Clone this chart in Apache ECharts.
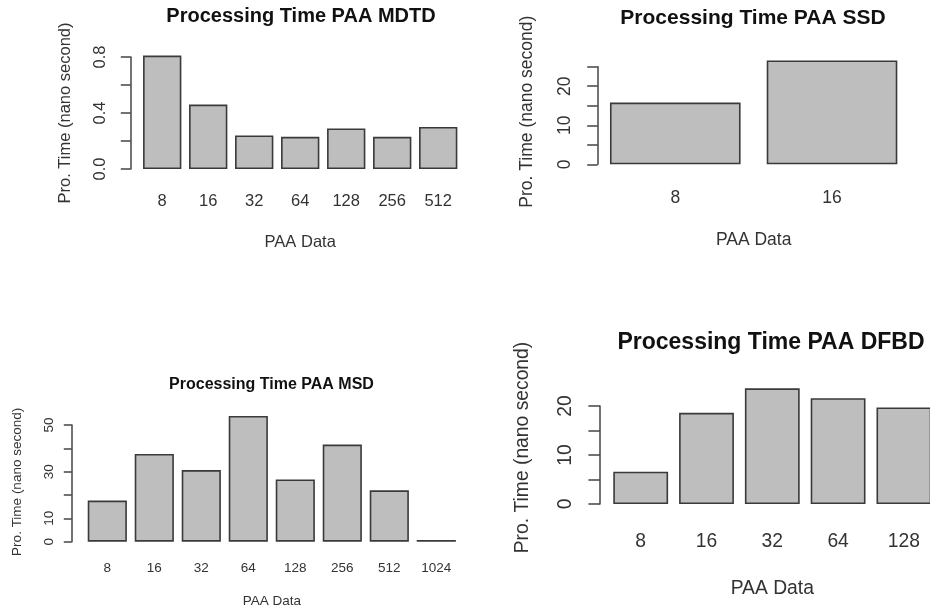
<!DOCTYPE html>
<html>
<head>
<meta charset="utf-8">
<script src="https://cdn.jsdelivr.net/npm/echarts@6/dist/echarts.min.js"></script>
<style>
  html, body { margin: 0; padding: 0; background: #ffffff; }
  #chart { width: 930px; height: 608px; }
</style>
</head>
<body>
<div id="chart"></div>
<script>
// ---- Data ----
const mdtdCategories = ['8', '16', '32', '64', '128', '256', '512'];
const mdtdValues = [0.81, 0.46, 0.24, 0.23, 0.29, 0.23, 0.30];
const mdtdTickLabels = ['0.0', '', '0.4', '', '0.8'];

const ssdCategories = ['8', '16'];
const ssdValues = [15.8, 26.6];
const ssdTickLabels = ['0', '', '10', '', '20', ''];

const msdCategories = ['8', '16', '32', '64', '128', '256', '512', '1024'];
const msdValues = [17.6, 37.6, 30.7, 53.9, 26.7, 41.6, 22.0, 0.7];
const msdTickLabels = ['0', '10', '', '30', '', '50'];

const dfbdCategories = ['8', '16', '32', '64', '128'];
const dfbdValues = [6.6, 18.6, 23.6, 21.6, 19.7];
const dfbdTickLabels = ['0', '', '10', '', '20'];

const xTitle = 'PAA Data';
const yTitle = 'Pro. Time (nano second)';

// ---- Layout / style ----
const FONT = '"Liberation Sans", Arial, Helvetica, sans-serif';
const TEXT = '#333333';
const LINE = '#444444';

const panels = [
  { title: 'Processing Time PAA MDTD', cats: mdtdCategories, vals: mdtdValues, ticks: mdtdTickLabels,
    max: 0.8, interval: 0.2,
    grid: { left: 139.2, width: 322, top: 57, bottom: 439 },
    fs: 16.5, tfs: 20, tx: 301, ty: 16,
    xMargin: 24, xGap: 64.5, yMargin: 22, tick: 9.9, yGap: 57, offset: 8.5, namePad: 0 },
  { title: 'Processing Time PAA SSD', cats: ssdCategories, vals: ssdValues, ticks: ssdTickLabels,
    max: 25, interval: 5,
    grid: { left: 596.9, width: 313.5, top: 66.7, bottom: 443.7 },
    fs: 17.5, tfs: 21, tx: 753, ty: 18.3,
    xMargin: 24.5, xGap: 67, yMargin: 24, tick: 10.5, yGap: 62, offset: -0.8, namePad: 7.6 },
  { title: 'Processing Time PAA MSD', cats: msdCategories, vals: msdValues, ticks: msdTickLabels,
    max: 50, interval: 10,
    grid: { left: 83.8, width: 376, top: 425, bottom: 66.3 },
    fs: 13.5, tfs: 16, tx: 271.5, ty: 384.7,
    xMargin: 20, xGap: 52.4, yMargin: 15.5, tick: 8, yGap: 47.3, offset: 12, namePad: 3 },
  { title: 'Processing Time PAA DFBD', cats: dfbdCategories, vals: dfbdValues, ticks: dfbdTickLabels,
    max: 20, interval: 5,
    grid: { left: 607.8, width: 329, top: 406, bottom: 104 },
    fs: 19.3, tfs: 23, tx: 771, ty: 343,
    xMargin: 28, xGap: 74.7, yMargin: 24.5, tick: 11.6, yGap: 68, offset: 7.8, namePad: 15 }
];

const option = {
  backgroundColor: '#ffffff',
  animation: false,
  title: [], grid: [], xAxis: [], yAxis: [], series: []
};

panels.forEach((p, i) => {
  option.title.push({
    text: p.title, left: p.tx, top: p.ty, padding: 0,
    textAlign: 'center', textVerticalAlign: 'middle',
    textStyle: { fontFamily: FONT, fontSize: p.tfs, fontWeight: 'bold', color: '#111111' }
  });
  option.grid.push(Object.assign({ containLabel: false, outerBoundsMode: 'none' }, p.grid));
  option.xAxis.push({
    type: 'category', gridIndex: i, data: p.cats,
    name: xTitle, nameLocation: 'middle', nameGap: p.xGap,
    nameTextStyle: { fontFamily: FONT, fontSize: p.fs, color: TEXT },
    axisLine: { show: false }, axisTick: { show: false }, splitLine: { show: false },
    axisLabel: { fontFamily: FONT, fontSize: p.fs, color: TEXT, margin: p.xMargin, interval: 0 }
  });
  option.yAxis.push({
    type: 'value', gridIndex: i, min: 0, max: p.max, interval: p.interval,
    offset: p.offset,
    name: yTitle, nameLocation: 'middle', nameGap: p.yGap,
    nameTextStyle: { fontFamily: FONT, fontSize: p.fs, color: TEXT, padding: [0, 0, 0, p.namePad] },
    axisLine: { show: true, lineStyle: { color: LINE, width: 1.5 } },
    axisTick: { show: true, length: p.tick, lineStyle: { color: LINE, width: 1.5 } },
    splitLine: { show: false },
    axisLabel: {
      fontFamily: FONT, fontSize: p.fs, color: TEXT, margin: p.yMargin, rotate: 90,
      showMinLabel: true, showMaxLabel: true,
      formatter: (v, idx) => {
        const k = Math.round(v / p.interval);
        return p.ticks[k] !== undefined ? p.ticks[k] : '';
      }
    }
  });
  option.series.push({
    type: 'bar', xAxisIndex: i, yAxisIndex: i, data: p.vals,
    barCategoryGap: '16.67%', clip: false,
    itemStyle: { color: '#bebebe', borderColor: '#3a3a3a', borderWidth: 1.6 },
    emphasis: { disabled: true }
  });
});

const chart = echarts.init(document.getElementById('chart'), null, { renderer: 'canvas' });
chart.setOption(option);
</script>
</body>
</html>
